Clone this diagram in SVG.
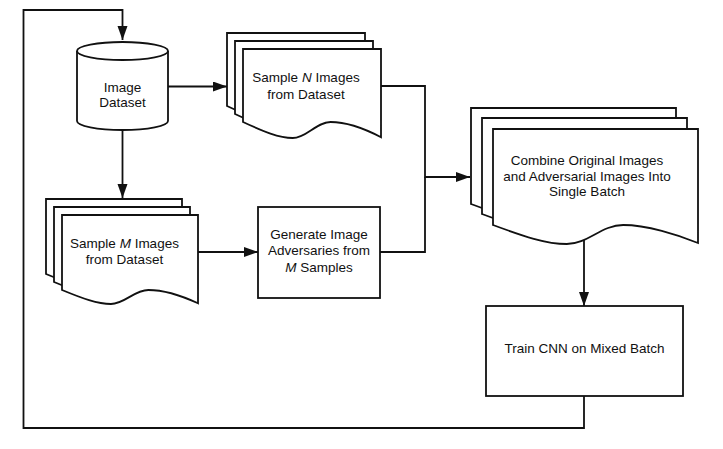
<svg xmlns="http://www.w3.org/2000/svg" width="723" height="449" viewBox="0 0 723 449">
<style>
.shp{fill:#fff;stroke:#111;stroke-width:1.8}
.ln{fill:none;stroke:#111;stroke-width:1.8}
.t{font-family:"Liberation Sans",Arial,sans-serif;font-size:13.5px;fill:#111;text-anchor:middle}
.i{font-style:italic}
</style>
<defs>
<marker id="ah" markerUnits="userSpaceOnUse" markerWidth="15" markerHeight="11" refX="14" refY="5" orient="auto">
<path d="M0,0 L14,5 L0,10 Z" fill="#111"/>
</marker>
<path id="docN" d="M0,0 H138 V88.2 C124.2,81 103.5,73 87.6,73 C73.1,73 63.5,89 49.7,89 C35.9,89 20.7,82.6 0,73 Z"/>
<path id="docM" d="M0,0 H136 V88.3 C122.4,82 102,75 86.4,75 C72.1,75 62.6,89 49,89 C35.4,89 20.4,83.4 0,75 Z"/>
<path id="docC" d="M0,0 H205 V114 C184.5,105.5 153.8,96 130.2,96 C108.7,96 94.3,115 73.8,115 C53.3,115 30.8,107.4 0,96 Z"/>
</defs>
<g id="connectors">
<path class="ln" d="M584,396 V428 H23.5 V10 H122.5 V40" marker-end="url(#ah)"/>
<path class="ln" d="M168,86.5 H227" marker-end="url(#ah)"/>
<path class="ln" d="M122.5,130 V198" marker-end="url(#ah)"/>
<path class="ln" d="M198,252 H258" marker-end="url(#ah)"/>
<path class="ln" d="M381,86 H425 V177 H470" marker-end="url(#ah)"/>
<path class="ln" d="M380,252 H425 V177"/>
<path class="ln" d="M584,240 V306" marker-end="url(#ah)"/>
</g>
<g id="image-dataset">
<path class="shp" d="M77,51 V121 A45.5,9 0 0 0 168,121 V51"/>
<ellipse class="shp" cx="122.5" cy="51" rx="45.5" ry="9"/>
<text class="t" x="122.5" y="92">Image</text>
<text class="t" x="122.5" y="107">Dataset</text>
</g>
<g id="sample-n">
<use href="#docN" class="shp" x="227" y="33"/>
<use href="#docN" class="shp" x="235" y="41"/>
<use href="#docN" class="shp" x="243" y="49"/>
<text class="t" x="306" y="82">Sample <tspan class="i">N</tspan> Images</text>
<text class="t" x="306" y="99">from Dataset</text>
</g>
<g id="sample-m">
<use href="#docM" class="shp" x="46" y="199"/>
<use href="#docM" class="shp" x="54" y="207"/>
<use href="#docM" class="shp" x="62" y="215"/>
<text class="t" x="124.5" y="248">Sample <tspan class="i">M</tspan> Images</text>
<text class="t" x="124.5" y="264">from Dataset</text>
</g>
<g id="generate">
<rect class="shp" x="258" y="207" width="122" height="91"/>
<text class="t" x="319" y="239">Generate Image</text>
<text class="t" x="319" y="255">Adversaries from</text>
<text class="t" x="319" y="272"><tspan class="i">M</tspan> Samples</text>
</g>
<g id="combine">
<use href="#docC" class="shp" x="471" y="108"/>
<use href="#docC" class="shp" x="482" y="118"/>
<use href="#docC" class="shp" x="493" y="129"/>
<text class="t" x="587" y="165">Combine Original Images</text>
<text class="t" x="587" y="181">and Adversarial Images Into</text>
<text class="t" x="587" y="196">Single Batch</text>
</g>
<g id="train">
<rect class="shp" x="486" y="306" width="197" height="90"/>
<text class="t" x="584.5" y="353">Train CNN on Mixed Batch</text>
</g>
</svg>
